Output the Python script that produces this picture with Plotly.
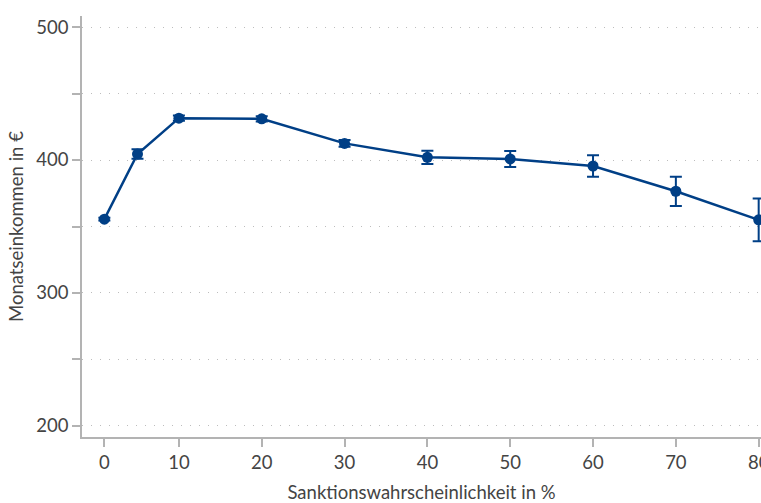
import plotly.graph_objects as go

# Sanction probability (%) and mean monthly income with error margins
sanktion = [1, 5, 10, 20, 30, 40, 50, 60, 70, 80]
einkommen = [355.5, 404.5, 431.5, 431.0, 412.5, 402.0, 400.8, 395.5, 376.5, 355.0]
fehler = [1.0, 3.5, 2.0, 2.0, 2.5, 5.0, 6.0, 8.0, 11.0, 16.0]

x_tickvals = [1, 10, 20, 30, 40, 50, 60, 70, 80]
x_ticktext = ["0", "10", "20", "30", "40", "50", "60", "70", "80"]
y_tickvals = [200, 250, 300, 350, 400, 450, 500]
y_ticktext = ["200", "", "300", "", "400", "", "500"]

blau = "#003f86"
grau_achse = "#b3b3b3"
font_family = "Source Sans Pro, Lato, Open Sans, sans-serif"
fs = 18.5

fig = go.Figure(
    go.Scatter(
        x=sanktion,
        y=einkommen,
        mode="lines+markers",
        line=dict(color=blau, width=2.5),
        marker=dict(color=blau, size=11),
        error_y=dict(type="data", array=fehler, color=blau, thickness=2, width=6),
        cliponaxis=False,
        showlegend=False,
    )
)

fig.update_layout(
    width=761,
    height=503,
    margin=dict(l=82, r=0, t=16, b=66, autoexpand=False),
    paper_bgcolor="white",
    plot_bgcolor="white",
    font=dict(family=font_family, size=fs, color="#444444"),
)

fig.update_xaxes(
    range=[-1.7, 80.28],
    tickvals=x_tickvals,
    ticktext=x_ticktext,
    ticklabeloverflow="allow",
    automargin=False,
    showgrid=False,
    zeroline=False,
    showline=True,
    linecolor=grau_achse,
    linewidth=1.5,
    ticks="outside",
    ticklen=8,
    tickwidth=1.5,
    tickcolor=grau_achse,
    tickfont=dict(size=fs, color="#444444"),
    title=dict(text="Sanktionswahrscheinlichkeit in %", font=dict(size=fs, color="#444444"), standoff=14),
)

fig.update_yaxes(
    range=[191.7, 508.3],
    tickvals=y_tickvals,
    ticktext=y_ticktext,
    automargin=False,
    showgrid=True,
    gridcolor="#bdbdbd",
    gridwidth=1.2,
    griddash="1px,8px",
    zeroline=False,
    showline=True,
    linecolor=grau_achse,
    linewidth=1.5,
    ticks="outside",
    ticklen=8,
    tickwidth=1.5,
    tickcolor=grau_achse,
    tickfont=dict(size=fs, color="#444444"),
    title=dict(text="Monatseinkommen in €", font=dict(size=fs, color="#444444"), standoff=8),
)

fig.write_html("out.html")
